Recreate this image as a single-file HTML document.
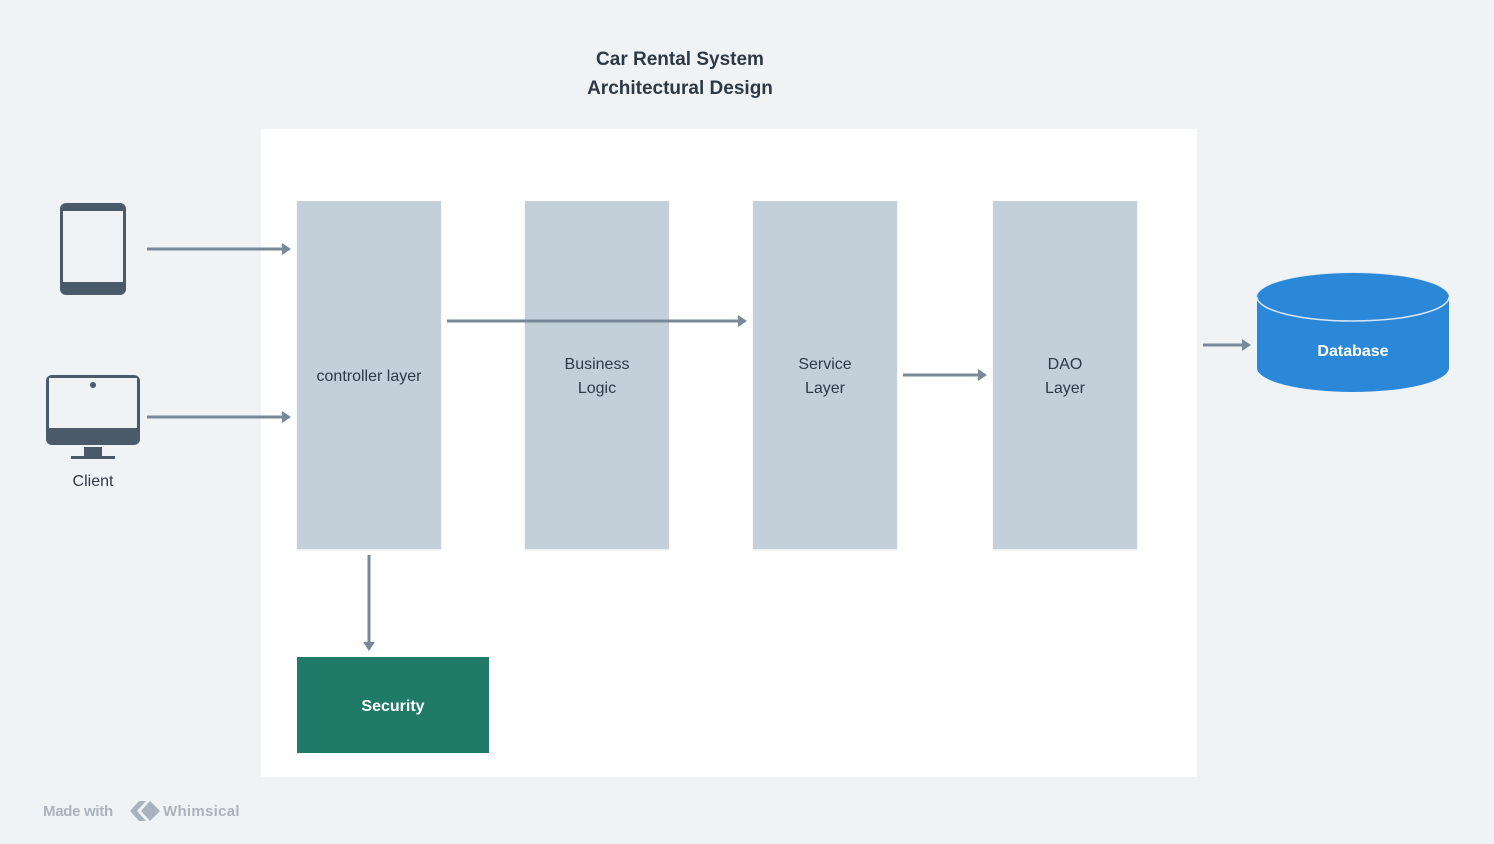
<!DOCTYPE html>
<html><head><style>
body{margin:0;width:1494px;height:844px;background:#eff3f6;position:relative;font-family:"Liberation Sans",sans-serif;overflow:hidden}
.a{position:absolute}
.col{position:absolute;top:203px;width:144px;height:348px;background:#c3cfd9;display:flex;align-items:center;justify-content:center;text-align:center;font-size:16px;color:#2d3a45;line-height:24px}
.bg{position:absolute;top:201px;width:144px;height:348px;background:#c3cfd9;box-shadow:0 1px 2px rgba(0,0,0,.1)}
</style></head><body>
<div class="a" style="left:0;width:1360px;top:45px;text-align:center;font-weight:bold;font-size:19px;color:#2d3a45;line-height:29px">Car Rental System<br>Architectural Design</div>
<div class="a" style="left:261px;top:129px;width:936px;height:648px;background:#fff"></div>
<div class="bg" style="left:297px"></div><div class="bg" style="left:525px"></div><div class="bg" style="left:753px"></div><div class="bg" style="left:993px"></div>
<div class="col" style="left:297px;background:none">controller layer</div>
<div class="col" style="left:525px;background:none">Business<br>Logic</div>
<div class="col" style="left:753px;background:none">Service<br>Layer</div>
<div class="col" style="left:993px;background:none">DAO<br>Layer</div>
<div class="a" style="left:297px;top:657px;width:192px;height:96px;background:#1f7a68"></div>
<div class="a" style="left:297px;top:659px;width:192px;height:96px;color:#fff;font-size:16px;font-weight:bold;display:flex;align-items:center;justify-content:center">Security</div>
<svg class="a" style="left:0;top:0" width="1494" height="844">
<g stroke="#788896" stroke-width="3" fill="none">
<line x1="147" y1="249" x2="284" y2="249"/>
<line x1="147" y1="417" x2="284" y2="417"/>
<line x1="447" y1="321" x2="740" y2="321"/>
<line x1="903" y1="375" x2="980" y2="375"/>
<line x1="1203" y1="345" x2="1244" y2="345"/>
<line x1="369" y1="555" x2="369" y2="644"/>
</g>
<g fill="#788896">
<polygon points="291,249 282,243 282,255"/>
<polygon points="291,417 282,411 282,423"/>
<polygon points="747,321 738,315 738,327"/>
<polygon points="987,375 978,369 978,381"/>
<polygon points="1251,345 1242,339 1242,351"/>
<polygon points="369,651 363,642 375,642"/>
</g>
<rect x="60" y="203" width="66" height="92" rx="6" fill="#4a5a68"/>
<rect x="63" y="211" width="60" height="71" fill="#eff3f6"/>
<rect x="46" y="375" width="94" height="70" rx="6" fill="#4a5a68"/>
<rect x="49" y="378" width="88" height="50" fill="#eff3f6"/>
<circle cx="93" cy="385" r="3" fill="#4a5a68"/>
<rect x="84" y="447" width="18" height="9" fill="#4a5a68"/>
<rect x="71" y="456" width="44" height="3" fill="#4a5a68"/>
<path d="M1257 297 V368 A96 24 0 0 0 1449 368 V297 Z" fill="#2b88d8"/>
<ellipse cx="1353" cy="297" rx="96" ry="24" fill="#2b88d8" stroke="#d8e6f2" stroke-width="1.5"/>
<path d="M1257 297 A96 24 0 0 1 1449 297" fill="#2b88d8"/>
<g fill="#a8b3bd"><polygon points="130,811 139,801 146,801 137,811 146,821 139,821"/><polygon points="141,811 150,801 160,811 150,821"/></g>
</svg>
<div class="a" style="left:60px;top:473px;width:66px;text-align:center;font-size:16px;color:#2d3a45">Client</div>
<div class="a" style="left:1257px;top:343px;width:192px;text-align:center;font-size:16px;font-weight:bold;color:#fff">Database</div>
<div class="a" style="left:43px;top:803px;font-size:15px;font-weight:bold;color:#a8b3bd;letter-spacing:-0.3px">Made with</div>
<div class="a" style="left:163px;top:803px;font-size:15px;font-weight:bold;color:#a8b3bd;letter-spacing:0.3px">Whimsical</div>
</body></html>
